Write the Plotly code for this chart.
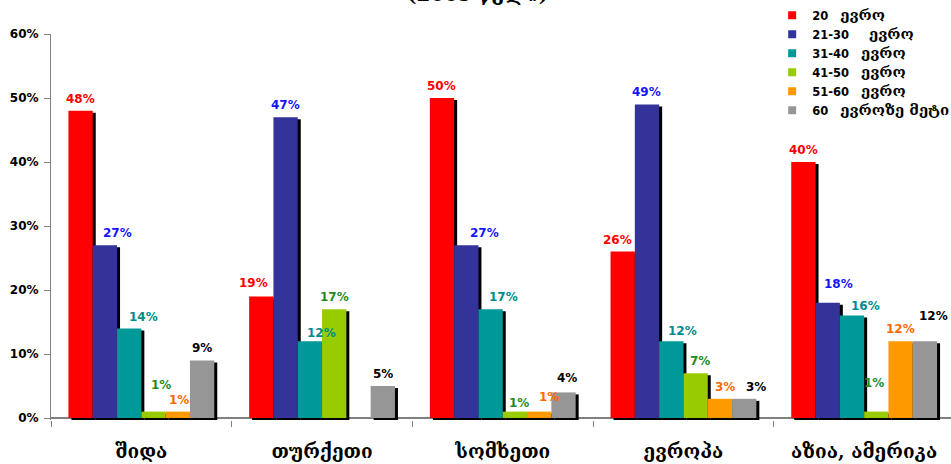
import plotly.graph_objects as go

# ---- data -------------------------------------------------------------
categories = ["შიდა", "თურქეთი", "სომხეთი", "ევროპა", "აზია, ამერიკა"]

series_labels = ["20", "21-30", "31-40", "41-50", "51-60", "60"]
series_units = ["ევრო", "ევრო", "ევრო", "ევრო", "ევრო", "ევროზე მეტი"]

upto_20 = [48, 19, 50, 26, 40]
from_21_30 = [27, 47, 27, 49, 18]
from_31_40 = [14, 12, 17, 12, 16]
from_41_50 = [1, 17, 1, 7, 1]
from_51_60 = [1, None, 1, 3, 12]
over_60 = [9, 5, 4, 3, 12]

series_values = [upto_20, from_21_30, from_31_40, from_41_50, from_51_60, over_60]

y_tick_values = [0, 10, 20, 30, 40, 50, 60]
y_tick_labels = ["0%", "10%", "20%", "30%", "40%", "50%", "60%"]

title_text = "(2009 წელი)"

# ---- styling ----------------------------------------------------------
bar_colors = ["#FF0000", "#333399", "#009999", "#99CC00", "#FF9900", "#969696"]
label_colors = ["#FF0000", "#1414FF", "#008C8C", "#1E8C1E", "#FF6A00", "#000000"]

# gap (number of spaces) between the range and the unit in each legend entry
legend_gaps = [3, 5, 3, 3, 3, 3]

W, H = 951, 464
M_L, M_R, M_T, M_B = 51, 0, 34, 44
CAT_PX = 180.7              # pixel width of one category slot
Y_MIN, Y_MAX = -0.31, 60
PX_PER_UNIT = (H - M_T - M_B) / (Y_MAX - Y_MIN)

GROUP_W = 0.807
BAR_W = GROUP_W / len(series_values)
SHADOW_DX = 3 / CAT_PX
SHADOW_DY = 2 / PX_PER_UNIT
LABEL_YSHIFT = 3

GEO_SPAN = "<span style=\"font-family:'DejaVu Serif';font-size:15px\">{}</span>"

# hand-placed label nudges (pixels): (series, category) -> (dx, dy)
label_nudge = {
    (1, 0): (13, 0), (2, 0): (14, -1), (3, 0): (7, 15), (4, 0): (1, 0),
    (0, 1): (-8, 1), (2, 1): (12, -3.5),
    (1, 2): (18, 0), (2, 2): (13, 0), (3, 2): (4, -3.5), (4, 2): (10, 3), (5, 2): (3, 2),
    (0, 3): (-5, 0), (2, 3): (11, -1.5), (3, 3): (4, 0), (4, 3): (5.5, 0), (5, 3): (12, 0),
    (1, 4): (11, 6.5), (2, 4): (13, -2), (3, 4): (-2.6, 16.5), (5, 4): (9, 13),
}

series_names = [
    lab + "\u00a0" * gap + GEO_SPAN.format(unit)
    for lab, unit, gap in zip(series_labels, series_units, legend_gaps)
]

xs = list(range(len(categories)))
fig = go.Figure()

# drop shadows, drawn first so neighbouring bars sit on top of them
for i, vals in enumerate(series_values):
    fig.add_bar(
        x=xs, y=vals, base=-SHADOW_DY,
        offset=-GROUP_W / 2 + i * BAR_W + SHADOW_DX, width=BAR_W,
        marker=dict(color="#000000", line=dict(width=0)),
        showlegend=False, hoverinfo="skip",
    )

# coloured bars
for i, vals in enumerate(series_values):
    fig.add_bar(
        x=xs, y=vals, name=series_labels[i] + " " + series_units[i],
        offset=-GROUP_W / 2 + i * BAR_W, width=BAR_W,
        marker=dict(color=bar_colors[i], line=dict(width=0)),
        showlegend=False,
    )

# legend entries with small square swatches
for i, name in enumerate(series_names):
    fig.add_scatter(
        x=[None], y=[None], mode="markers", name=name,
        marker=dict(symbol="square", size=8, color=bar_colors[i]),
    )

# value labels above the bars
annotations = []
for i, vals in enumerate(series_values):
    for j, v in enumerate(vals):
        if v is None:
            continue
        dx, dy = label_nudge.get((i, j), (0, 0))
        annotations.append(dict(
            x=j - GROUP_W / 2 + (i + 0.5) * BAR_W, y=v, xref="x", yref="y",
            text=f"{v}%", showarrow=False, yanchor="bottom", xanchor="center",
            xshift=dx, yshift=LABEL_YSHIFT + dy,
            font=dict(family="DejaVu Sans", size=12, color=label_colors[i], weight="bold"),
        ))

annotations.append(dict(
    x=0.474, y=1.067, xref="paper", yref="paper", text=title_text,
    showarrow=False, xanchor="center", yanchor="bottom",
    font=dict(family="DejaVu Serif", size=20, color="#000000", weight="bold"),
))

fig.update_layout(
    width=W, height=H,
    margin=dict(l=M_L, r=M_R, t=M_T, b=M_B, pad=0, autoexpand=False),
    paper_bgcolor="#FFFFFF", plot_bgcolor="#FFFFFF",
    barmode="overlay",
    annotations=annotations,
    showlegend=True,
    legend=dict(
        x=0.8013, y=1.086, xanchor="left", yanchor="top",
        bgcolor="rgba(0,0,0,0)", borderwidth=0,
        font=dict(family="DejaVu Sans", size=11.5, color="#000000", weight="bold"),
        itemwidth=30, tracegroupgap=0,
    ),
    xaxis=dict(
        range=[-0.5, -0.5 + (W - M_L - M_R) / CAT_PX],
        tickmode="array", tickvals=xs, ticktext=categories,
        ticks="", showgrid=False, zeroline=False, showline=False,
        tickfont=dict(family="DejaVu Serif", size=19, color="#000000", weight="bold"),
        ticklabelstandoff=18,
        minor=dict(tick0=-0.5, dtick=1, ticks="outside", ticklen=6,
                   tickcolor="#808080", tickwidth=1, showgrid=False),
    ),
    yaxis=dict(
        range=[Y_MIN, Y_MAX],
        tickmode="array", tickvals=y_tick_values, ticktext=y_tick_labels,
        ticks="outside", ticklen=6, tickcolor="#808080", tickwidth=1,
        showline=True, linecolor="#808080", linewidth=1,
        showgrid=False, zeroline=True, zerolinecolor="#808080", zerolinewidth=1.5,
        tickfont=dict(family="DejaVu Sans", size=12, color="#000000", weight="bold"),
        ticklabelstandoff=3,
    ),
)

fig.write_html("out.html")
